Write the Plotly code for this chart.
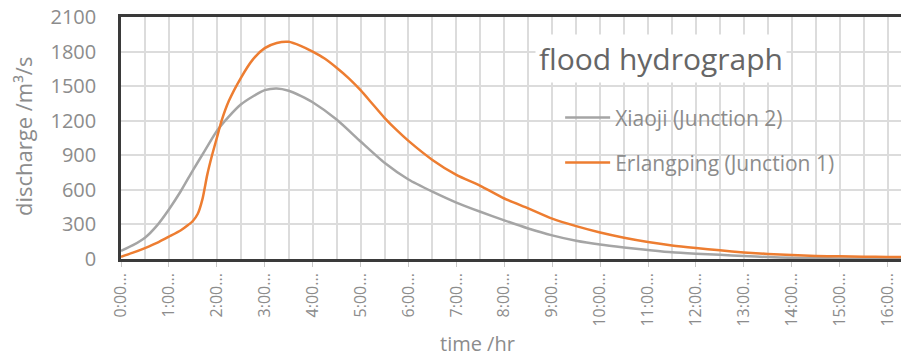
import plotly.graph_objects as go

# time in hours
t_xiaoji = [0, 0.25, 0.5, 0.75, 1.0, 1.25, 1.5, 1.75, 2.0, 2.25, 2.5, 2.75, 3.0, 3.25, 3.5, 3.75,
            4.0, 4.5, 5.0, 5.5, 6.0, 6.5, 7.0, 7.5, 8.0, 8.5, 9.0, 9.5, 10.0, 10.5, 11.0, 11.5,
            12.0, 12.5, 13.0, 13.5, 14.0, 14.5, 15.0, 15.5, 16.0, 16.3]
q_xiaoji = [70, 120, 185, 290, 430, 590, 770, 940, 1110, 1235, 1340, 1410, 1465, 1480, 1460, 1415,
            1360, 1210, 1020, 835, 690, 585, 490, 410, 335, 265, 205, 158, 125, 100, 78, 58,
            46, 36, 25, 17, 10, 7, 5, 4, 3, 3]

t_erlang = [0, 0.25, 0.5, 0.75, 1.0, 1.25, 1.4, 1.5, 1.6, 1.7, 1.8, 1.9, 2.0, 2.1, 2.25, 2.5,
            2.75, 3.0, 3.25, 3.5, 3.75, 4.0, 4.25, 4.5, 4.75, 5.0, 5.25, 5.5, 5.75, 6.0, 6.5,
            7.0, 7.5, 8.0, 8.5, 9.0, 9.5, 10.0, 10.5, 11.0, 11.5, 12.0, 12.5, 13.0, 13.5, 14.0,
            14.5, 15.0, 15.5, 16.0, 16.3]
q_erlang = [20, 55, 95, 140, 194, 250, 295, 330, 390, 520, 730, 900, 1050, 1200, 1370, 1570,
            1730, 1830, 1875, 1885, 1850, 1800, 1740, 1660, 1570, 1465, 1345, 1225, 1120, 1025, 860,
            730, 635, 525, 440, 350, 285, 230, 185, 148, 118, 95, 75, 57, 44, 34,
            27, 23, 20, 18, 18]

tick_hours = list(range(17))
tick_labels = [f"{h}:00..." for h in tick_hours]
y_ticks = [0, 300, 600, 900, 1200, 1500, 1800, 2100]

FONT = "Open Sans"
GRAY_TXT = "#8c8c8c"
GRID = "#dcdcdc"

# plot area spans 780 x 242 px
PW, PH = 780, 242

fig = go.Figure()
fig.add_trace(go.Scatter(x=t_xiaoji, y=q_xiaoji, mode="lines", name="Xiaoji (Junction 2)",
                         line=dict(color="#a5a5a5", width=2.5, shape="spline", smoothing=0.6),
                         legend="legend", showlegend=True))
fig.add_trace(go.Scatter(x=t_erlang, y=q_erlang, mode="lines", name="Erlangping (Junction 1)",
                         line=dict(color="#ed7d31", width=2.5, shape="spline", smoothing=0.6),
                         legend="legend2", showlegend=True))

fig.update_layout(
    width=901, height=361,
    margin=dict(l=121, r=0, t=17, b=102),
    paper_bgcolor="white", plot_bgcolor="white",
    showlegend=True,
    font=dict(family=FONT, color=GRAY_TXT),
    legend=dict(x=0.563, y=0.583, xanchor="left", yanchor="middle", bgcolor="rgba(0,0,0,0)",
                font=dict(size=21, color=GRAY_TXT, family=FONT), itemwidth=45),
    legend2=dict(x=0.563, y=0.397, xanchor="left", yanchor="middle", bgcolor="rgba(0,0,0,0)",
                 font=dict(size=21, color=GRAY_TXT, family=FONT), itemwidth=45),
    annotations=[
        dict(text="flood hydrograph", xref="paper", yref="paper", x=0.692, y=0.83,
             xanchor="center", yanchor="middle", showarrow=False,
             font=dict(size=30, color="#666666", family=FONT),
             bgcolor="white", borderpad=3),
        dict(text="time /hr", xref="paper", yref="paper", x=(477 - 121) / PW, y=-(343 - 259) / PH,
             xanchor="center", yanchor="middle", showarrow=False,
             font=dict(size=20, color=GRAY_TXT, family=FONT)),
        dict(text="discharge /m³/s", xref="paper", yref="paper", x=-(121 - 23) / PW, y=(259 - 137) / PH,
             xanchor="center", yanchor="middle", showarrow=False, textangle=-90,
             font=dict(size=22, color=GRAY_TXT, family=FONT)),
    ],
)

fig.update_xaxes(
    range=[0, 16.28], automargin=False,
    tickmode="array", tickvals=tick_hours, ticktext=tick_labels, tickangle=-90,
    tickfont=dict(size=16, color=GRAY_TXT), ticklabeloverflow="allow",
    ticks="outside", ticklen=5, tickcolor="#c8c8c8", tickwidth=1,
    showgrid=True, gridcolor=GRID, gridwidth=1.5,
    minor=dict(tickmode="linear", tick0=0, dtick=0.5, showgrid=True, gridcolor=GRID, gridwidth=1.5),
    showline=True, linecolor="#3a3a3a", linewidth=2.5, mirror=True,
    zeroline=False,
)
fig.update_yaxes(
    range=[0, 2100], automargin=False,
    tickmode="array", tickvals=y_ticks,
    tickfont=dict(size=20, color=GRAY_TXT), ticklabeloverflow="allow",
    ticks="outside", ticklen=18, tickcolor="rgba(0,0,0,0)",
    showgrid=True, gridcolor=GRID, gridwidth=2,
    showline=True, linecolor="#3a3a3a", linewidth=2.5,
    zeroline=False,
)

fig.write_html("out.html", config={"displayModeBar": False},
               post_script="document.body.style.margin='0';")
